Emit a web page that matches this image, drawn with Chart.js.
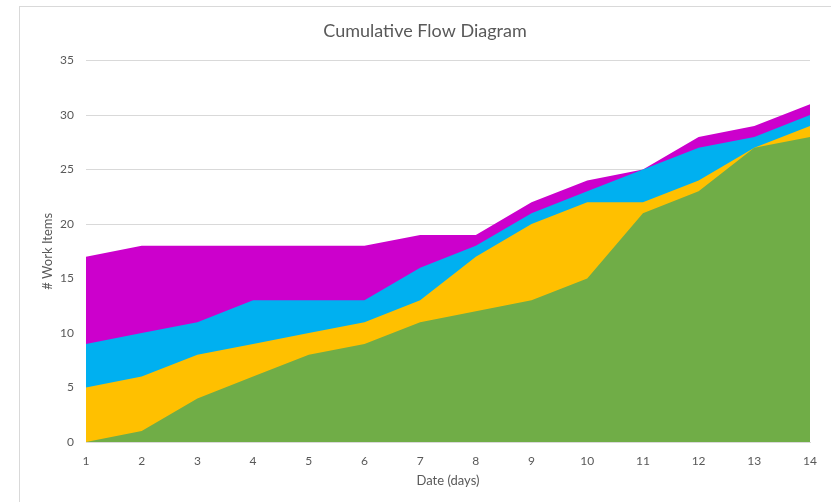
<!DOCTYPE html>
<html>
<head>
<meta charset="utf-8">
<script src="https://cdn.jsdelivr.net/npm/chart.js@4"></script>
<style>
  html, body { margin: 0; padding: 0; background: #fff; }
  #wrap { position: relative; width: 831px; height: 502px; overflow: hidden; }
  #frame { position: absolute; left: 19px; top: 6px; width: 900px; height: 600px; border: 1px solid #d9d9d9; box-sizing: border-box; }
  canvas { position: absolute; left: 0; top: 0; }
</style>
</head>
<body>
<div id="wrap">
  <div id="frame"></div>
  <canvas id="cfd" width="831" height="502"></canvas>
</div>
<script>
// days on the x axis
const days = ['1', '2', '3', '4', '5', '6', '7', '8', '9', '10', '11', '12', '13', '14'];
// cumulative totals (top edge of each band)
const done       = [0, 1, 4, 6, 8, 9, 11, 12, 13, 15, 21, 23, 27, 28];
const inTest     = [5, 6, 8, 9, 10, 11, 13, 17, 20, 22, 22, 24, 27, 29];
const inProgress = [9, 10, 11, 13, 13, 13, 16, 18, 21, 23, 25, 27, 28, 30];
const backlog    = [17, 18, 18, 18, 18, 18, 19, 19, 22, 24, 25, 28, 29, 31];
const yTicks = [0, 5, 10, 15, 20, 25, 30, 35];

const textColor = '#595959';
const fontFamily = 'Lato, "Open Sans", sans-serif';

function band(label, data, color) {
    return {
        label: label,
        data: data,
        backgroundColor: color,
        borderColor: color,
        borderWidth: 0,
        pointRadius: 0,
        tension: 0,
        fill: 'origin'
    };
}

const ctx = document.getElementById('cfd').getContext('2d');
new Chart(ctx, {
    type: 'line',
    data: {
        labels: days,
        // first dataset is drawn on top
        datasets: [
            band('Done', done, '#70ad47'),
            band('Test', inTest, '#ffc000'),
            band('In Progress', inProgress, '#00b0f0'),
            band('Backlog', backlog, '#cc00cc')
        ]
    },
    options: {
        responsive: false,
        animation: false,
        layout: { padding: { left: 40, right: 21, top: 0, bottom: 0 } },
        plugins: {
            legend: { display: false },
            tooltip: { enabled: false },
            title: {
                display: true,
                text: 'Cumulative Flow Diagram',
                color: textColor,
                font: { family: fontFamily, size: 18, weight: 'normal' },
                padding: { top: 20, bottom: 19 }
            }
        },
        scales: {
            x: {
                grid: { display: false, drawTicks: false },
                border: { display: true, color: '#d9d9d9', width: 1 },
                ticks: {
                    color: textColor,
                    font: { family: fontFamily, size: 12 },
                    padding: 12,
                    maxRotation: 0,
                    autoSkip: false
                },
                title: {
                    display: true,
                    text: 'Date (days)',
                    color: textColor,
                    font: { family: fontFamily, size: 13 },
                    padding: { top: 4, bottom: 13 }
                },
                afterFit: function (scale) { scale.height = 60; }
            },
            y: {
                min: 0,
                max: 35,
                afterBuildTicks: function (scale) {
                    scale.ticks = yTicks.map(v => ({ value: v }));
                },
                grid: { color: '#d9d9d9', drawTicks: false },
                border: { display: false },
                ticks: {
                    color: textColor,
                    font: { family: fontFamily, size: 12 },
                    padding: 12
                },
                title: {
                    display: true,
                    text: '# Work Items',
                    color: textColor,
                    font: { family: fontFamily, size: 13 },
                    padding: { top: 0, bottom: 0 }
                },
                afterFit: function (scale) { scale.width = 46; }
            }
        }
    }
});
</script>
</body>
</html>
